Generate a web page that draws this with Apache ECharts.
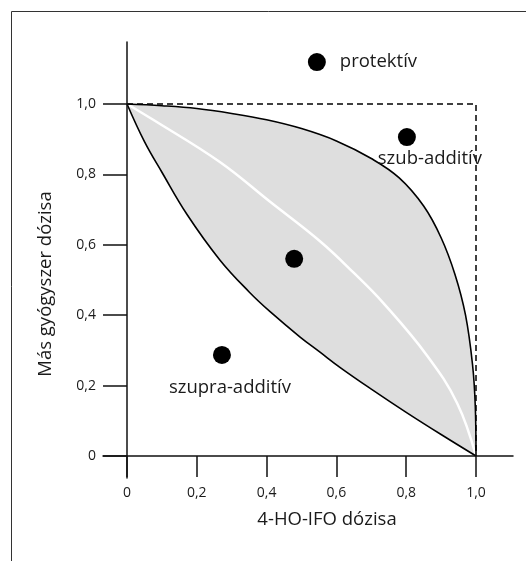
<!DOCTYPE html>
<html>
<head>
<meta charset="utf-8">
<script src="https://cdn.jsdelivr.net/npm/echarts@6/dist/echarts.min.js"></script>
<style>
  html, body { margin: 0; padding: 0; background: #ffffff; }
  #chart { width: 526px; height: 561px; }
</style>
</head>
<body>
<div id="chart"></div>
<script>
// tick values and their labels (decimal comma)
var tickValues = [0, 0.2, 0.4, 0.6, 0.8, 1.0];
var tickLabels = ["0", "0,2", "0,4", "0,6", "0,8", "1,0"];

// upper (sub-additive) boundary of the envelope
var upperCurve = [
  [0, 1], [0.1, 0.995], [0.2, 0.987], [0.3, 0.973], [0.4, 0.955],
  [0.5, 0.93], [0.6, 0.895], [0.7, 0.845], [0.78, 0.79], [0.85, 0.71],
  [0.9, 0.62], [0.94, 0.515], [0.97, 0.4], [0.99, 0.26], [0.998, 0.14],
  [1, 0]
];

// lower (supra-additive) boundary of the envelope
var lowerCurve = [
  [0, 1], [0.05, 0.893], [0.1, 0.806], [0.172, 0.686], [0.266, 0.557],
  [0.35, 0.466], [0.41, 0.41], [0.496, 0.338], [0.553, 0.295],
  [0.61, 0.252], [0.7, 0.19], [0.8, 0.124], [0.9, 0.061], [1, 0]
];

// white additivity line inside the envelope
var middleCurve = [
  [0, 1], [0.075, 0.955], [0.266, 0.835], [0.41, 0.722], [0.553, 0.61],
  [0.65, 0.52], [0.734, 0.435], [0.86, 0.285], [0.946, 0.15], [1, 0]
];

// dashed frame of the single-drug doses
var dashedFrame = [[0, 1], [1, 1], [1, 0]];

// example combination points
var pointX = [0.544, 0.802, 0.479, 0.272];
var pointY = [1.119, 0.906, 0.560, 0.287];
var pointNames = ["protektív", "szub-additív", "", "szupra-additív"];

var FONT = "Open Sans";
var TEXT = "#1a1a1a";

function tickText(value) {
  for (var i = 0; i < tickValues.length; i++) {
    if (Math.abs(tickValues[i] - value) < 1e-6) return tickLabels[i];
  }
  return "";
}

var pointLabels = [
  { show: true, position: "right", distance: 14 },
  { show: true, position: "bottom", distance: 3, offset: [23, 0] },
  { show: false },
  { show: true, position: "bottom", distance: 14, offset: [8, 0] }
];

var pointData = pointX.map(function (x, i) {
  return {
    name: pointNames[i],
    value: [x, pointY[i]],
    label: pointLabels[i]
  };
});

var chart = echarts.init(document.getElementById("chart"), null, { renderer: "canvas" });

var axisLineStyle = { color: "#111", width: 1.5 };

chart.setOption({
  backgroundColor: "#ffffff",
  animation: false,
  grid: {
    left: 103,
    right: 13,
    top: 42,
    bottom: 83,
    outerBoundsMode: "none",
    containLabel: false
  },
  xAxis: {
    type: "value",
    min: -0.0688,
    max: 1.106,
    z: 10,
    axisLine: { show: true, onZero: true, lineStyle: axisLineStyle },
    axisTick: {
      show: true,
      inside: false,
      length: 21,
      customValues: tickValues,
      lineStyle: axisLineStyle
    },
    axisLabel: {
      show: true,
      margin: 8,
      customValues: tickValues,
      formatter: tickText,
      color: TEXT,
      fontSize: 14,
      fontFamily: FONT
    },
    splitLine: { show: false }
  },
  yAxis: {
    type: "value",
    min: -0.0625,
    max: 1.176,
    z: 10,
    axisLine: { show: true, onZero: true, lineStyle: axisLineStyle },
    axisTick: {
      show: true,
      inside: false,
      length: 24,
      customValues: tickValues,
      lineStyle: axisLineStyle
    },
    axisLabel: {
      show: true,
      margin: 7,
      customValues: tickValues,
      formatter: tickText,
      color: TEXT,
      fontSize: 14,
      fontFamily: FONT
    },
    splitLine: { show: false }
  },
  graphic: [
    { type: "line", shape: { x1: 11.5, y1: 11.5, x2: 526, y2: 11.5 }, style: { stroke: "#333", lineWidth: 1 } },
    { type: "line", shape: { x1: 11.5, y1: 11.5, x2: 11.5, y2: 561 }, style: { stroke: "#333", lineWidth: 1 } },
    {
      type: "text", x: 327, y: 520,
      style: { text: "4-HO-IFO dózisa", fill: TEXT, font: "18.5px 'Open Sans'", align: "center", verticalAlign: "middle" }
    },
    {
      type: "text", x: 46, y: 284, rotation: Math.PI / 2,
      style: { text: "Más gyógyszer dózisa", fill: TEXT, font: "18.5px 'Open Sans'", align: "center", verticalAlign: "middle" }
    }
  ],
  series: [
    {
      name: "upper fill",
      type: "line",
      data: upperCurve,
      smooth: 0.4,
      symbol: "none",
      lineStyle: { width: 0 },
      areaStyle: { color: "#dedede", opacity: 1 },
      z: 1,
      silent: true
    },
    {
      name: "lower fill",
      type: "line",
      data: lowerCurve,
      smooth: 0.4,
      symbol: "none",
      lineStyle: { width: 0 },
      areaStyle: { color: "#ffffff", opacity: 1 },
      z: 2,
      silent: true
    },
    {
      name: "additive",
      type: "line",
      data: middleCurve,
      smooth: 0.4,
      symbol: "none",
      lineStyle: { color: "#ffffff", width: 2.5 },
      z: 3
    },
    {
      name: "upper",
      type: "line",
      data: upperCurve,
      smooth: 0.4,
      symbol: "none",
      lineStyle: { color: "#000", width: 1.6 },
      z: 4
    },
    {
      name: "lower",
      type: "line",
      data: lowerCurve,
      smooth: 0.4,
      symbol: "none",
      lineStyle: { color: "#000", width: 1.6 },
      z: 4
    },
    {
      name: "frame",
      type: "line",
      data: dashedFrame,
      symbol: "none",
      lineStyle: { color: "#000", width: 1.5, type: [6, 4] },
      z: 5
    },
    {
      name: "points",
      type: "scatter",
      data: pointData,
      symbol: "circle",
      symbolSize: 18,
      itemStyle: { color: "#000", opacity: 1 },
      label: {
        formatter: "{b}",
        color: TEXT,
        fontSize: 18.5,
        fontFamily: FONT
      },
      z: 12
    }
  ]
});
</script>
</body>
</html>
